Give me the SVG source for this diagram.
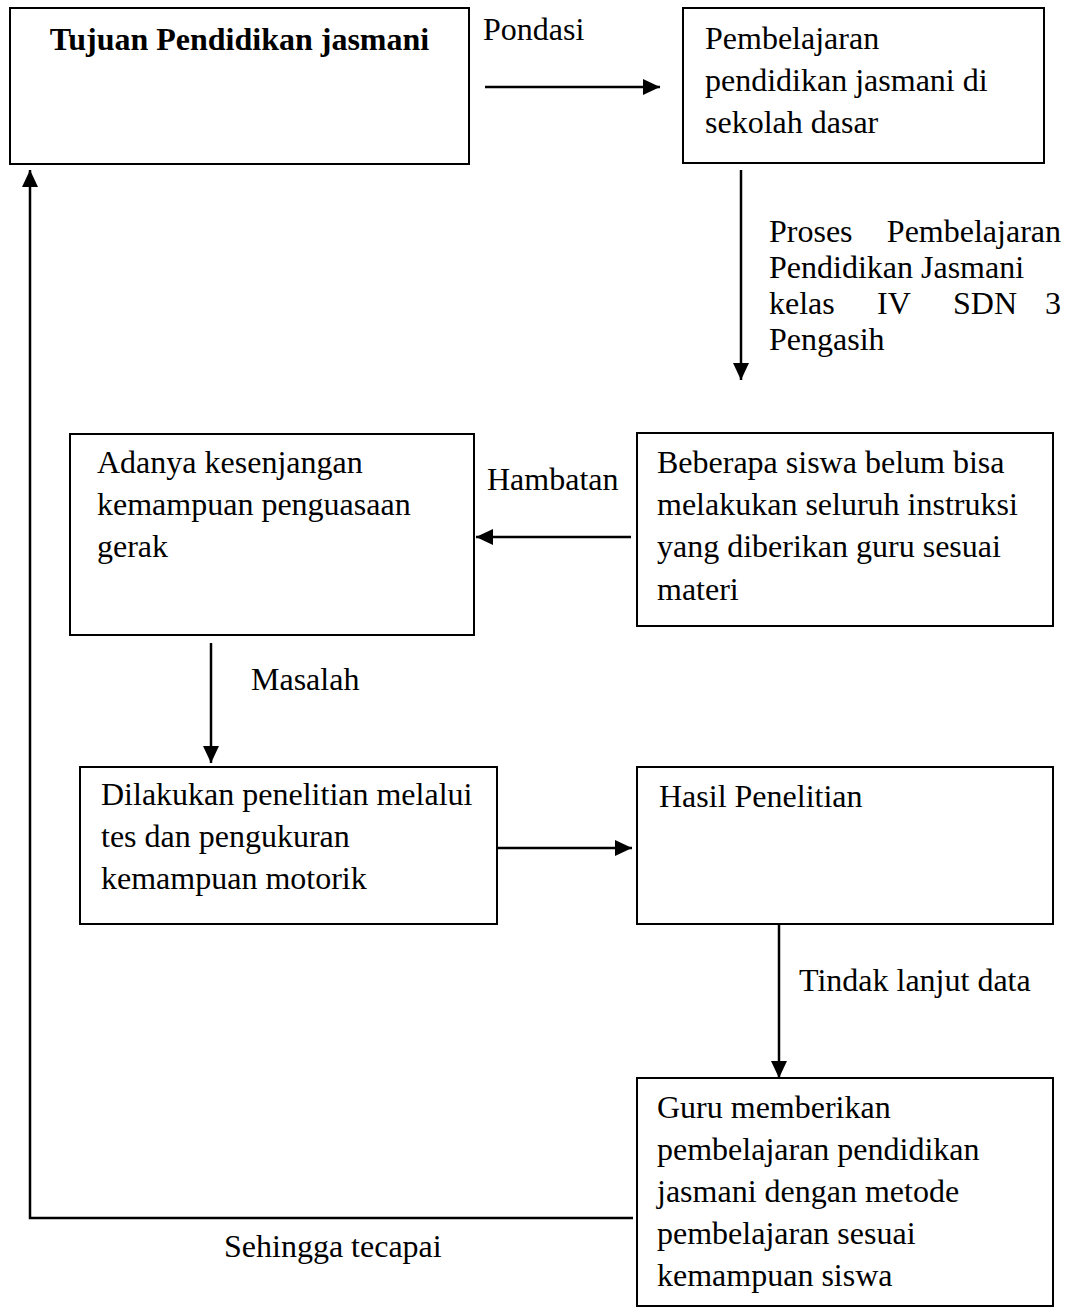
<svg xmlns="http://www.w3.org/2000/svg" width="1072" height="1311" viewBox="0 0 1072 1311">
<style>
  .box { fill: #ffffff; stroke: #000000; stroke-width: 2; }
  .t { font-family: "Liberation Serif", "Times New Roman", serif; font-size: 32px; fill: #000000; }
  .b { font-weight: bold; }
  .line { fill: none; stroke: #000000; stroke-width: 2.5; }
</style>
<defs>
  <marker id="arrow" markerUnits="userSpaceOnUse" markerWidth="19" markerHeight="17" refX="17" refY="8" orient="auto">
    <path d="M0,0 L17,8 L0,16 z" fill="#000000"/>
  </marker>
</defs>
<rect width="1072" height="1311" fill="#ffffff"/>

<g id="n1">
  <rect class="box" x="10" y="8" width="459" height="156"/>
  <text class="t b" x="239.5" y="50" text-anchor="middle">Tujuan Pendidikan jasmani</text>
</g>
<g id="n2">
  <rect class="box" x="683" y="8" width="361" height="155"/>
  <text class="t" x="705" y="49">Pembelajaran</text>
  <text class="t" x="705" y="91">pendidikan jasmani di</text>
  <text class="t" x="705" y="133">sekolah dasar</text>
</g>
<g id="n3">
  <rect class="box" x="70" y="434" width="404" height="201"/>
  <text class="t" x="97" y="473">Adanya kesenjangan</text>
  <text class="t" x="97" y="515">kemampuan penguasaan</text>
  <text class="t" x="97" y="557">gerak</text>
</g>
<g id="n4">
  <rect class="box" x="637" y="433" width="416" height="193"/>
  <text class="t" x="657" y="473">Beberapa siswa belum bisa</text>
  <text class="t" x="657" y="515">melakukan seluruh instruksi</text>
  <text class="t" x="657" y="557">yang diberikan guru sesuai</text>
  <text class="t" x="657" y="600">materi</text>
</g>
<g id="n5">
  <rect class="box" x="80" y="767" width="417" height="157"/>
  <text class="t" x="101" y="805">Dilakukan penelitian melalui</text>
  <text class="t" x="101" y="847">tes dan pengukuran</text>
  <text class="t" x="101" y="889">kemampuan motorik</text>
</g>
<g id="n6">
  <rect class="box" x="637" y="767" width="416" height="157"/>
  <text class="t" x="659" y="807">Hasil Penelitian</text>
</g>
<g id="n7">
  <rect class="box" x="637" y="1078" width="416" height="228"/>
  <text class="t" x="657" y="1118">Guru memberikan</text>
  <text class="t" x="657" y="1160">pembelajaran pendidikan</text>
  <text class="t" x="657" y="1202">jasmani dengan metode</text>
  <text class="t" x="657" y="1244">pembelajaran sesuai</text>
  <text class="t" x="657" y="1286">kemampuan siswa</text>
</g>

<g id="connectors">
  <line class="line" x1="485" y1="87" x2="660" y2="87" marker-end="url(#arrow)"/>
  <line class="line" x1="741" y1="170" x2="741" y2="380" marker-end="url(#arrow)"/>
  <line class="line" x1="631" y1="537" x2="476" y2="537" marker-end="url(#arrow)"/>
  <line class="line" x1="211" y1="643" x2="211" y2="763" marker-end="url(#arrow)"/>
  <line class="line" x1="497" y1="848" x2="632" y2="848" marker-end="url(#arrow)"/>
  <line class="line" x1="779" y1="925" x2="779" y2="1078" marker-end="url(#arrow)"/>
  <polyline class="line" points="633,1218 30,1218 30,170" marker-end="url(#arrow)"/>

  <text class="t" x="483" y="40">Pondasi</text>
  <text class="t" x="769" y="242">Proses</text>
  <text class="t" x="1061" y="242" text-anchor="end">Pembelajaran</text>
  <text class="t" x="769" y="278">Pendidikan Jasmani</text>
  <text class="t" x="769" y="314">kelas</text>
  <text class="t" x="877" y="314">IV</text>
  <text class="t" x="953" y="314">SDN</text>
  <text class="t" x="1061" y="314" text-anchor="end">3</text>
  <text class="t" x="769" y="350">Pengasih</text>
  <text class="t" x="487" y="490">Hambatan</text>
  <text class="t" x="251" y="690">Masalah</text>
  <text class="t" x="799" y="991">Tindak lanjut data</text>
  <text class="t" x="224" y="1257">Sehingga tecapai</text>
</g>
</svg>
